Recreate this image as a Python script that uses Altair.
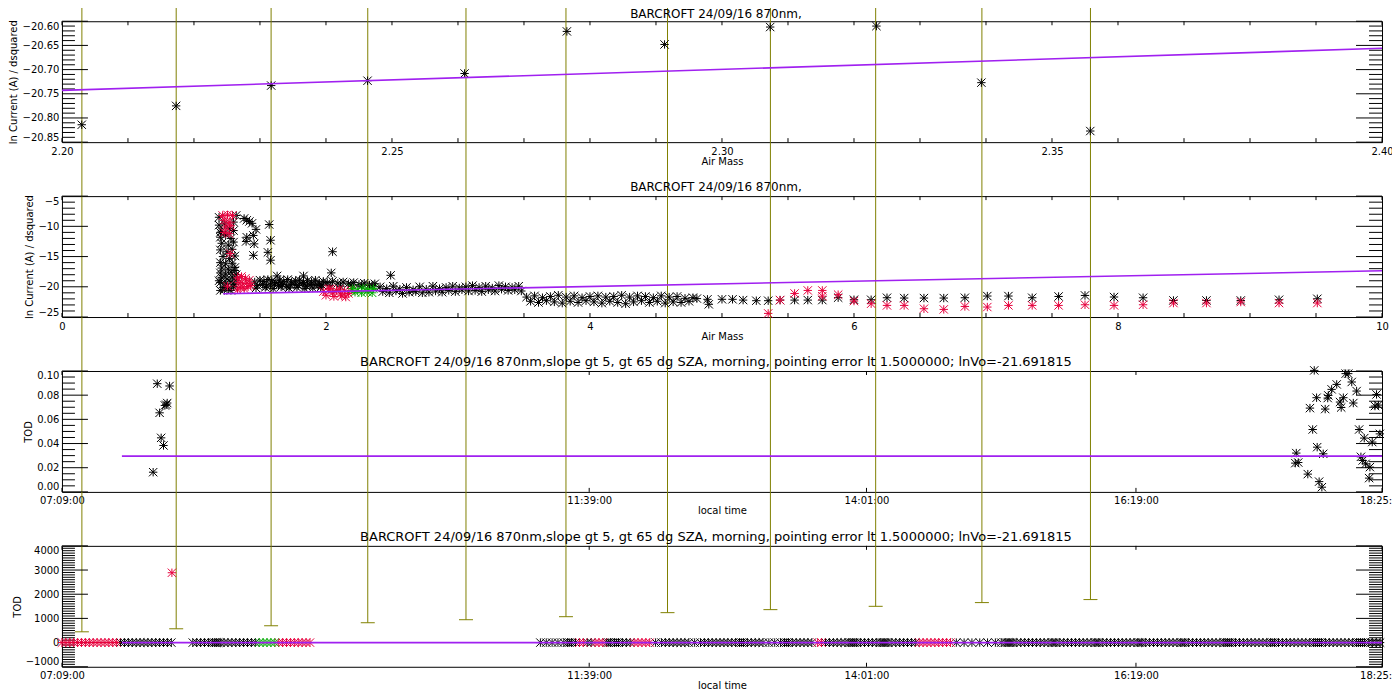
import altair as alt
import pandas as pd

# ---------------- data ----------------
# vertical bars drawn from the bottom panel (local time in minutes after midnight, lower end in TOD units)
errbar_time = [439.2, 487.5, 536.1, 585.6, 635.9, 687.1, 739.1, 791.8, 845.7, 900.1, 955.7]
errbar_low = [446, 571, 696, 821, 946, 1071, 1238, 1363, 1500, 1654, 1779]

time_ticks = [429, 699, 841, 979, 1105]
time_labels = ["07:09:00", "11:39:00", "14:01:00", "16:19:00", "18:25:00"]

title_short = "BARCROFT 24/09/16 870nm,"
title_long = ("BARCROFT 24/09/16 870nm,slope gt 5, gt 65 dg SZA, morning, "
              "pointing error lt 1.5000000; lnVo=-21.691815")
ytitle_ln = "ln Current (A) / dsquared"

# panel 1
p1_airmass = [2.2030, 2.2173, 2.2317, 2.2463, 2.2610, 2.2765, 2.2913, 2.3073, 2.3234, 2.3393, 2.3558]
p1_lnI = [-20.814, -20.775, -20.733, -20.723, -20.708, -20.621, -20.648, -20.612, -20.610, -20.727, -20.827]
p1_fit_airmass = [2.20, 2.40]
p1_fit_lnI = [-20.743, -20.656]

# panel 2
p2_black_x = [
    1.19, 1.19, 1.20, 1.23, 1.27, 1.21, 1.30, 1.32, 1.30,
    1.20, 1.24, 1.28, 1.21, 1.26, 1.30, 1.20, 1.25, 1.29, 1.22, 1.27, 1.31, 1.20, 1.24, 1.29,
    1.21, 1.26, 1.31, 1.20, 1.24, 1.28, 1.32, 1.21, 1.25, 1.29, 1.32, 1.20, 1.24, 1.28, 1.31,
    1.22, 1.26, 1.30, 1.20, 1.28, 1.23, 1.19, 1.31,
    1.38, 1.40, 1.42, 1.44, 1.47, 1.40, 1.45, 1.395, 1.456, 1.45, 1.57, 1.58, 1.56, 1.58,
    1.63, 1.83, 2.04, 2.05, 2.49,
    1.46, 1.50, 1.53, 1.56, 1.59, 1.62, 1.65, 1.68, 1.71, 1.74, 1.77, 1.80, 1.83, 1.86, 1.89, 1.92, 1.95, 1.98,
    1.48, 1.52, 1.55, 1.58, 1.61, 1.64, 1.67, 1.70, 1.73, 1.76, 1.79, 1.82, 1.85, 1.88, 1.91, 1.94, 1.97,
    1.47, 1.54, 1.60, 1.66, 1.72, 1.78, 1.84, 1.90, 1.96,
    2.01, 2.05, 2.09, 2.13, 2.17, 2.21, 2.25, 2.29, 2.33, 2.37, 2.03, 2.11, 2.19, 2.27, 2.35,
    2.41, 2.46, 2.51, 2.56, 2.61, 2.66, 2.71, 2.76, 2.81, 2.86, 2.91, 2.96, 3.01, 3.06, 3.11, 3.16,
    3.21, 3.26, 3.31, 3.36, 3.41, 3.46,
    2.43, 2.48, 2.53, 2.58, 2.63, 2.68, 2.73, 2.78, 2.83, 2.88, 2.93, 2.98, 3.03, 3.08, 3.13, 3.18,
    3.23, 3.28, 3.33, 3.38, 3.43, 3.48,
    3.52, 3.58, 3.64, 3.70, 3.76, 3.82, 3.88, 3.94, 4.00, 4.06, 4.12, 4.18, 4.24, 4.30, 4.36, 4.42,
    4.48, 4.54, 4.60, 4.66, 4.72, 4.78,
    3.55, 3.61, 3.67, 3.73, 3.79, 3.85, 3.91, 3.97, 4.03, 4.09, 4.15, 4.21, 4.27, 4.33, 4.39, 4.45,
    4.51, 4.57, 4.63, 4.69, 4.75,
    4.81, 4.89, 4.90, 5.00, 5.08, 5.16, 5.26, 5.35, 5.44, 5.55, 5.65, 5.76, 5.88,
    6.00, 6.13, 6.25, 6.38, 6.53, 6.68, 6.84, 7.01, 7.17, 7.35, 7.55, 7.75, 7.97, 8.19, 8.42, 8.67,
    8.93, 9.22, 9.51,
]
p2_black_y = [
    -8.5, -9.8, -11.0, -9.6, -10.4, -10.8, -10.7, -8.2, -9.3,
    -11.8, -11.4, -12.0, -12.8, -13.1, -12.6, -13.9, -14.2, -13.8, -15.0, -15.3, -14.9, -16.0, -16.2, -16.1,
    -16.9, -17.1, -16.8, -17.7, -17.9, -17.6, -18.0, -18.5, -18.7, -18.4, -18.9, -19.3, -19.5, -19.2, -19.6,
    -20.1, -20.3, -20.0, -20.6, -20.6, -20.5, -19.0, -17.3,
    -8.7, -9.0, -9.2, -9.5, -10.5, -11.8, -11.5, -12.5, -12.9, -14.8, -9.7, -12.3, -14.3, -15.6,
    -18.2, -18.2, -17.7, -14.2, -18.1,
    -19.2, -18.9, -19.1, -18.8, -19.0, -19.3, -18.9, -19.1, -18.8, -19.2, -19.0, -18.9, -19.3, -19.0, -19.2, -18.9, -19.4, -19.1,
    -19.8, -19.6, -19.9, -19.7, -19.5, -19.8, -19.6, -19.9, -19.7, -19.6, -19.8, -19.5, -19.9, -19.7, -19.6, -19.8, -19.7,
    -20.2, -20.1, -20.3, -20.0, -20.2, -20.1, -20.3, -20.2, -20.1,
    -19.3, -19.1, -19.4, -19.2, -19.5, -19.3, -19.6, -19.4, -19.7, -19.5, -19.8, -19.9, -19.7, -19.9, -19.8,
    -20.0, -20.3, -19.9, -20.4, -20.1, -20.5, -20.0, -20.4, -19.9, -20.3, -20.1, -19.9, -20.2, -20.0, -19.8, -20.1,
    -19.9, -20.2, -19.8, -20.0, -20.1, -19.9,
    -20.8, -21.0, -20.7, -21.1, -20.9, -20.8, -21.0, -20.9, -20.7, -20.9, -20.6, -20.8, -20.5, -20.7, -20.6, -20.8,
    -20.5, -20.7, -20.4, -20.6, -20.5, -20.7,
    -21.7, -21.5, -21.8, -21.6, -21.4, -21.7, -21.5, -21.8, -21.6, -21.5, -21.7, -21.6, -21.4, -21.7, -21.5, -21.6,
    -21.8, -21.5, -21.7, -21.6, -21.9, -21.8,
    -22.4, -22.6, -22.3, -22.5, -22.7, -22.4, -22.6, -22.3, -22.5, -22.7, -22.4, -22.6, -22.8, -22.5, -22.3, -22.6,
    -22.4, -22.7, -22.5, -22.6, -22.4,
    -21.95, -22.07, -22.9, -22.07, -22.07, -22.2, -22.3, -22.3, -22.2, -22.2, -22.2, -22.2, -21.8,
    -22.14, -22.14, -21.81, -21.86, -21.86, -21.86, -21.81, -21.53, -21.53, -21.81, -21.6, -21.43, -21.69, -21.81,
    -22.26, -22.26, -22.26, -22.14, -21.98,
]
p2_red_x = [
    1.217, 1.254, 1.292, 1.229, 1.267, 1.241, 1.279, 1.229, 1.267, 1.274, 1.254,
    1.33, 1.36, 1.39, 1.42, 1.34, 1.37, 1.40, 1.43, 1.35, 1.38, 1.41, 1.33,
    1.98, 2.02, 2.05, 2.08, 2.11, 2.14, 2.17, 2.00, 2.06, 2.12, 2.19, 2.03, 2.10, 2.15,
    5.35, 5.44, 5.55, 5.65, 5.76, 5.76, 5.88,
    6.00, 6.13, 6.25, 6.38, 6.53, 6.68, 6.84, 7.01, 7.17, 7.35, 7.55, 7.75, 7.97, 8.19, 8.42, 8.67,
    8.93, 9.22, 9.51,
]
p2_red_y = [
    -8.2, -8.1, -8.2, -9.0, -9.3, -10.1, -9.9, -11.0, -11.2, -14.5, -19.9,
    -18.5, -18.3, -18.6, -18.9, -19.3, -19.5, -19.4, -19.8, -20.1, -20.3, -20.0, -20.5,
    -20.8, -20.4, -21.0, -20.6, -21.2, -20.7, -21.1, -21.4, -21.6, -21.5, -20.6, -20.3, -20.4, -21.7,
    -24.4, -22.2, -21.1, -20.6, -20.6, -21.55, -21.3,
    -22.36, -22.8, -23.08, -23.08, -23.63, -23.74, -23.25, -23.35, -23.08, -23.08, -23.08, -22.97, -23.08,
    -22.97, -22.69, -22.69, -22.52, -22.69, -22.69,
]
p2_green_x = [2.20, 2.24, 2.28, 2.32, 2.36, 2.22, 2.27, 2.31, 2.35]
p2_green_y = [-20.3, -20.6, -20.2, -20.5, -20.3, -20.9, -21.0, -20.8, -21.0]
p2_fit_airmass = [1.22, 10.0]
p2_fit_lnI = [-21.15, -17.35]

# panel 3 (local time in minutes after midnight)
p3_time = [475.7, 477.8, 479.0, 479.8, 481.0, 482.4, 481.7, 482.9, 484.1,
           1060.6, 1061.1, 1062.1, 1067.0, 1068.1, 1069.5, 1070.3, 1071.5, 1071.8, 1072.8,
           1074.2, 1074.9, 1075.9, 1077.2, 1077.5, 1079.2, 1081.8, 1083.5, 1084.1, 1085.2,
           1086.4, 1087.7, 1089.5, 1090.3, 1092.0, 1093.3, 1094.2, 1095.1, 1095.9, 1096.6,
           1098.4, 1098.8, 1100.0, 1101.4, 1102.2, 1103.1, 1103.9]
p3_tod = [0.0163, 0.0895, 0.0654, 0.0447, 0.0384, 0.0721, 0.0715, 0.0735, 0.0876,
          0.0238, 0.0321, 0.0243, 0.0147, 0.0693, 0.0516, 0.1005, 0.0779, 0.0370, 0.0085,
          0.0039, 0.0315, 0.0685, 0.0776, 0.0798, 0.0848, 0.0889, 0.0743, 0.0698, 0.0779,
          0.0978, 0.0978, 0.0909, 0.0735, 0.0834, 0.0516, 0.0290, 0.0260, 0.0445, 0.0232,
          0.0114, 0.0205, 0.0412, 0.0710, 0.0806, 0.0718, 0.0480]
p3_line_time = [459.7, 1105]
p3_line_tod = [0.0296, 0.0296]

# panel 4
p4_black_t = [
    459, 461, 463, 465, 467, 469, 471, 473, 475, 477, 479, 481, 483, 485,
    496, 498, 500, 502, 504, 506, 507, 508, 509, 510, 512, 514, 516, 518, 520, 522, 524, 526, 528,
    674, 677, 680, 683, 686, 688, 689, 690, 692, 698, 700, 708, 709, 710, 712, 713, 714, 716, 718, 720,
    733, 736, 738, 740, 742, 744, 746, 748, 750, 753, 756, 758, 760, 762, 764, 766, 768, 770,
    772, 774, 776, 777, 778, 780, 782, 784, 786, 788, 791, 794, 797, 799, 800, 801, 803, 805,
    807, 809, 811, 813, 820, 822, 824, 826, 828, 830, 832, 833, 834, 835, 836, 838, 840, 842,
    844, 846, 848, 849, 850, 851, 852, 854, 856, 858, 860, 862, 864, 866,
    887, 891, 895, 899, 903, 907, 910, 912, 913, 914, 915, 916, 918, 920, 922, 924, 926, 928,
    930, 932, 934, 936, 937, 938, 940, 942, 944, 946, 948, 950, 952, 954, 956, 958, 959, 960,
    962, 964, 966, 968, 970, 972, 974, 976, 978, 980, 981, 982, 984, 986, 988, 990, 992, 994,
    996, 998, 1000, 1002, 1003, 1004, 1006, 1008, 1010, 1012, 1014, 1016, 1018, 1020, 1022,
    1024, 1025, 1026, 1027, 1028, 1030, 1032, 1034, 1036, 1038, 1040, 1042, 1044, 1046, 1048,
    1049, 1050, 1052, 1054, 1056, 1058, 1060, 1062, 1064, 1066, 1068, 1070, 1071, 1072, 1073,
    1074, 1076, 1078, 1080, 1082, 1084, 1086, 1088, 1090, 1092, 1093, 1094, 1095, 1096, 1098,
    1100, 1102, 1104,
]
p4_red_t = [429, 431, 433, 435, 437, 439, 441, 443, 445, 447, 449, 451, 453, 455, 457,
            540, 542, 544, 546, 548, 550, 552, 554, 556,
            694, 696, 702, 704, 706, 722, 724, 726, 728, 730, 816, 818,
            868, 870, 872, 874, 876, 878, 880, 882, 884]
p4_green_t = [530, 532, 534, 536, 538]
p4_outlier_t = [485.3]
p4_outlier_tod = [2888]
p4_line_time = [459.7, 1105]
p4_line_tod = [0, 0]

# ---------------- styling ----------------
W, H, GAP = 1321, 121, 54
OLIVE = "#808000"
PURPLE = "#a020f0"
RED = "#e6003c"
GREEN = "#00aa00"
STAR = "M-1,-1L1,1M-1,1L1,-1M-1,0L1,0M0,-1L0,1"
FONT = "DejaVu Sans"


def sc(lo, hi):
    return alt.Scale(domain=[lo, hi], nice=False, zero=False)


TS = sc(time_ticks[0], time_ticks[-1])
err_df = pd.DataFrame({"t": errbar_time, "low": errbar_low})

time_expr = "'" + time_labels[-1] + "'"
for tv, tl in reversed(list(zip(time_ticks[:-1], time_labels[:-1]))):
    time_expr = f"datum.value == {tv} ? '{tl}' : " + time_expr


def olive_full(top, xaxis):
    return alt.Chart(err_df).mark_rule(color=OLIVE, strokeWidth=1).encode(
        x=alt.X("t:Q", scale=TS, axis=xaxis), y=alt.value(top), y2=alt.value(H))


def yticks(major, minor, ys, yaxis):
    out = []
    for vals, L in ((major, 26), (minor, 13)):
        d = pd.DataFrame({"v": vals})
        for x0, x1 in ((0, L), (W - L, W)):
            out.append(alt.Chart(d).mark_rule(color="black", strokeWidth=1).encode(
                y=alt.Y("v:Q", scale=ys, axis=yaxis), x=alt.value(x0), x2=alt.value(x1)))
    return out


def xticks(vals, xs, xaxis, L=4):
    d = pd.DataFrame({"v": vals})
    out = []
    for y0, y1 in ((0, L), (H - L, H)):
        out.append(alt.Chart(d).mark_rule(color="black", strokeWidth=1).encode(
            x=alt.X("v:Q", scale=xs, axis=xaxis), y=alt.value(y0), y2=alt.value(y1)))
    return out


def stars(df, xs, ys, xaxis, yaxis):
    return alt.Chart(df).mark_point(shape=STAR, size=70, strokeWidth=1, filled=False, opacity=1).encode(
        x=alt.X("x:Q", scale=xs, axis=xaxis),
        y=alt.Y("y:Q", scale=ys, axis=yaxis),
        color=alt.Color("c:N", scale=alt.Scale(domain=["k", "r", "g"], range=["#000000", RED, GREEN]),
                        legend=None))


def fitline(xv, yv, xs, ys, xaxis, yaxis):
    d = pd.DataFrame({"x": xv, "y": yv})
    return alt.Chart(d).mark_line(color=PURPLE, strokeWidth=1.6).encode(
        x=alt.X("x:Q", scale=xs, axis=xaxis), y=alt.Y("y:Q", scale=ys, axis=yaxis))


def title_text(text, size, ypos):
    d = pd.DataFrame({"t": [text]})
    return alt.Chart(d).mark_text(font=FONT, fontSize=size, color="black", align="center",
                                  baseline="alphabetic").encode(
        text="t:N", x=alt.value(W / 2 - 6), y=alt.value(ypos))


def xax(values, title, fmt=None, expr=None):
    kw = dict(values=values, title=title, labelFlush=False, labelPadding=4, titlePadding=0,
              labelOverlap=False)
    if fmt:
        kw["format"] = fmt
    if expr:
        kw["labelExpr"] = expr
    return alt.Axis(**kw)


def yax(values, title, fmt):
    return alt.Axis(values=values, title=title, format=fmt, labelFlush=True, labelPadding=3,
                    titlePadding=3, labelOverlap=False)


def panel(layers, indep=False):
    c = alt.layer(*layers).properties(width=W, height=H)
    if indep:
        c = c.resolve_scale(x="independent")
    return c


def pts(xs_, ys_, c):
    return pd.DataFrame({"x": xs_, "y": ys_, "c": [c] * len(xs_)})


# ---- panel 1 ----
x1 = sc(2.20, 2.40)
y1 = sc(-20.85, -20.60)
p1_major = [round(-20.85 + 0.05 * i, 2) for i in range(6)]
p1_minor = [round(-20.85 + 0.01 * i, 2) for i in range(26) if i % 5]
p1_xt = [round(2.20 + 0.01 * i, 2) for i in range(21)]
p1_df = pts(p1_airmass, p1_lnI, "k")
ax1x = xax([2.20, 2.25, 2.30, 2.35, 2.40], "Air Mass", fmt=".2f")
ax1y = yax(p1_major, ytitle_ln, ".2f")
p1 = panel(
    [olive_full(-17, None)] + yticks(p1_major, p1_minor, y1, ax1y) + xticks(p1_xt, x1, None)
    + [stars(p1_df, x1, y1, ax1x, ax1y),
       fitline(p1_fit_airmass, p1_fit_lnI, x1, y1, None, ax1y),
       title_text(title_short, 12, -3)],
    indep=True)

# ---- panel 2 ----
x2 = sc(0, 10)
y2 = sc(-25, -5)
p2_major = [-25, -20, -15, -10, -5]
p2_minor = [v for v in range(-25, -4) if v % 5]
p2_xt = [0.5 * i for i in range(21)]
p2_df = pd.concat([pts(p2_black_x, p2_black_y, "k"), pts(p2_red_x, p2_red_y, "r"),
                   pts(p2_green_x, p2_green_y, "g")], ignore_index=True)
ax2x = xax([0, 2, 4, 6, 8, 10], "Air Mass", fmt="d")
ax2y = yax(p2_major, ytitle_ln, "d")
p2 = panel(
    [olive_full(-GAP, None)] + yticks(p2_major, p2_minor, y2, ax2y) + xticks(p2_xt, x2, None)
    + [stars(p2_df, x2, y2, ax2x, ax2y),
       fitline(p2_fit_airmass, p2_fit_lnI, x2, y2, None, ax2y),
       title_text(title_short, 12, -5)],
    indep=True)

# ---- panel 3 ----
y3 = sc(0, 0.10)
p3_major = [0.0, 0.02, 0.04, 0.06, 0.08, 0.10]
p3_minor = [round(0.005 * i, 3) for i in range(21) if i % 4]
p3_df = pts(p3_time, p3_tod, "k")
ax3x = xax(time_ticks, "local time", expr=time_expr)
ax3y = yax(p3_major, "TOD", ".2f")
p3 = panel(
    [olive_full(-GAP, ax3x)] + yticks(p3_major, p3_minor, y3, ax3y) + xticks(time_ticks, TS, ax3x)
    + [stars(p3_df, TS, y3, ax3x, ax3y),
       fitline(p3_line_time, p3_line_tod, TS, y3, ax3x, ax3y),
       title_text(title_long, 13, -5)])

# ---- panel 4 ----
y4 = sc(-1000, 4000)
p4_major = [-1000, 0, 1000, 2000, 3000, 4000]
p4_minor = [v for v in range(-1000, 4001, 100) if v % 1000]
p4_df = pd.concat([pts(p4_black_t, [0] * len(p4_black_t), "k"),
                   pts(p4_red_t, [0] * len(p4_red_t), "r"),
                   pts(p4_green_t, [0] * len(p4_green_t), "g"),
                   pts(p4_outlier_t, p4_outlier_tod, "r")], ignore_index=True)
ax4x = xax(time_ticks, "local time", expr=time_expr)
ax4y = yax(p4_major, "TOD", "d")
err_bars = alt.Chart(err_df).mark_rule(color=OLIVE, strokeWidth=1).encode(
    x=alt.X("t:Q", scale=TS, axis=ax4x), y=alt.Y("low:Q", scale=y4, axis=ax4y), y2=alt.value(-GAP))
err_caps = alt.Chart(err_df).mark_tick(color=OLIVE, orient="horizontal", size=14, thickness=1,
                                       opacity=1).encode(
    x=alt.X("t:Q", scale=TS, axis=ax4x), y=alt.Y("low:Q", scale=y4, axis=ax4y))
p4 = panel(
    [err_bars, err_caps] + yticks(p4_major, p4_minor, y4, ax4y) + xticks(time_ticks, TS, ax4x)
    + [stars(p4_df, TS, y4, ax4x, ax4y),
       fitline(p4_line_time, p4_line_tod, TS, y4, ax4x, ax4y),
       title_text(title_long, 13, -5)])

chart = alt.vconcat(
    p1, p2, p3, p4, spacing=GAP, bounds="flush", background="white",
    padding={"top": -5, "left": 0, "right": -13, "bottom": 0},
).configure_view(stroke="black", strokeWidth=1).configure_axis(
    domain=False, ticks=False, tickSize=0, grid=False,
    labelFont=FONT, titleFont=FONT, labelFontSize=10, titleFontSize=10,
    titleFontWeight="normal", labelColor="black", titleColor="black",
)

chart.save("out.html", embed_options={"renderer": "svg", "actions": False})
